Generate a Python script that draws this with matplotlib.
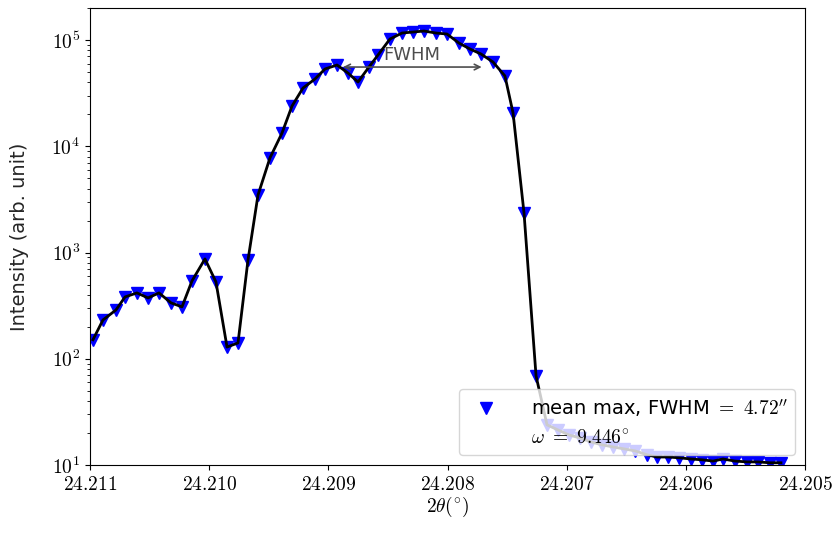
import math
import matplotlib
matplotlib.use('Agg')
import matplotlib.pyplot as plt
from matplotlib.ticker import FuncFormatter

plt.rcParams['mathtext.fontset'] = 'cm'
plt.rcParams['font.family'] = ['DejaVu Sans']

# data (2theta in degrees, intensity)
two_theta = [24.210975, 24.210891, 24.210782, 24.210706, 24.210606, 24.210513,
             24.210421, 24.210320, 24.210228, 24.210144, 24.210035, 24.209943,
             24.209850, 24.209758, 24.209674, 24.209590, 24.209490, 24.209389,
             24.209305, 24.209213, 24.209112, 24.209028, 24.208927, 24.208835,
             24.208751, 24.208659, 24.208583, 24.208483, 24.208382, 24.208290,
             24.208197, 24.208097, 24.208004, 24.207904, 24.207811, 24.207719,
             24.207618, 24.207518, 24.207450, 24.207358, 24.207257, 24.207165,
             24.207073, 24.206981, 24.206888, 24.206796, 24.206704, 24.206611,
             24.206519, 24.206427, 24.206326, 24.206242, 24.206150, 24.206057,
             24.205957, 24.205864, 24.205772, 24.205688, 24.205588, 24.205487,
             24.205395, 24.205294, 24.205202]
intensity = [151, 232, 288, 382, 417, 374,
             417, 336, 308, 541, 871, 529,
             129, 141, 851, 3480, 7760, 13300,
             23900, 35300, 43000, 53400, 58200, 48900,
             40300, 55700, 72300, 102200, 116400, 118900,
             121600, 116400, 113900, 93700, 82300, 73900,
             62100, 45900, 20600, 2360, 69, 23.9,
             21.4, 19.2, 18.0, 16.5, 15.5, 14.8,
             14.2, 13.6, 12.5, 11.9, 11.9, 11.7,
             11.4, 11.2, 10.9, 11.4, 10.9, 10.7,
             10.7, 10.5, 10.5]

x_ticks = [24.211, 24.210, 24.209, 24.208, 24.207, 24.206, 24.205]

# FWHM arrow ends and label
fwhm_left = 24.20890
fwhm_right = 24.20769
fwhm_level = 55700
fwhm_text_x = 24.20830
fwhm_text_y = 72300

fig = plt.figure(figsize=(8.37, 5.37), dpi=100)
ax = fig.add_axes([0.1075, 0.134, 0.8543, 0.851])

ax.plot(two_theta, intensity, 'v', color='blue', markersize=8,
        label=r'mean max, FWHM $=\ 4.72^{\prime\prime}$', zorder=2)
ax.plot(two_theta, intensity, '-', color='black', linewidth=2, zorder=3)
ax.plot([], [], ls='none', label=r'$\omega\ =\ 9.446^{\circ}$')

ax.annotate('', xy=(fwhm_right, fwhm_level), xytext=(fwhm_left, fwhm_level),
            arrowprops=dict(arrowstyle='<->', color='0.3', lw=1.2))
ax.text(fwhm_text_x, fwhm_text_y, 'FWHM', ha='center', va='center',
        fontsize=13, color='0.3')

ax.set_yscale('log')
ax.set_ylim(10, 2e5)
ax.set_xlim(24.211, 24.205)
ax.set_xticks(x_ticks)
ax.xaxis.set_major_formatter(FuncFormatter(lambda v, p: '$%.3f$' % v))
ax.yaxis.set_major_formatter(FuncFormatter(lambda v, p: '$10^{%d}$' % round(math.log10(v))))
ax.tick_params(labelsize=14)

ax.set_xlabel(r'$2\theta(^{\circ})$', fontsize=14, labelpad=1)
ax.set_ylabel('Intensity (arb. unit)', fontsize=14, labelpad=16, color='0.15')

ax.legend(loc='lower right', fontsize=14, handletextpad=1.3)

plt.savefig('out.png', dpi=100)
